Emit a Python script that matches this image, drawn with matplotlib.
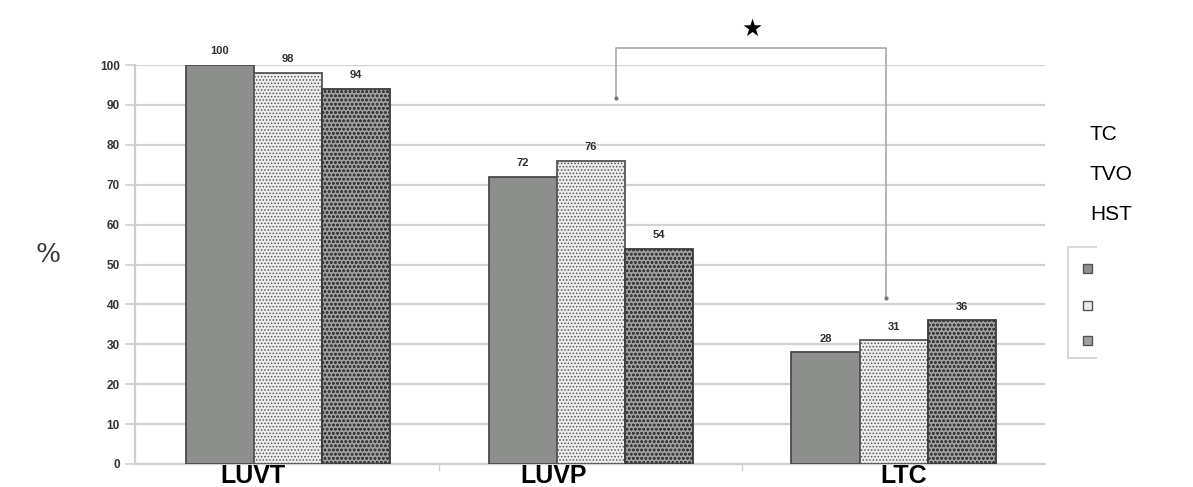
import numpy as np
import matplotlib.pyplot as plt
from matplotlib.patches import Rectangle

categories = ["LUVT", "LUVP", "LTC"]
series_names = ["TC", "TVO", "HST"]
tc = [100, 72, 28]
tvo = [98, 76, 31]
hst = [94, 54, 36]

W, H = 1193, 487
fig = plt.figure(figsize=(W / 100, H / 100), dpi=100)
plt.rcParams["hatch.color"] = "#6e6e6e"
plt.rcParams["hatch.linewidth"] = 0.7


def px(x, y):
    # pixel position -> figure fraction
    return x / W, 1 - y / H


ax = fig.add_axes([135 / W, (H - 464) / H, 910 / W, 399 / H])
ax.set_xlim(-0.505, 2.5)
ax.set_ylim(0, 100)

x = np.arange(len(categories))
bw = 0.225
styles = [
    dict(facecolor="#8c8f8b", edgecolor="#4a4a4a", hatch=None),
    dict(facecolor="#ececec", edgecolor="#555555", hatch="....."),
    dict(facecolor="#a0a0a0", edgecolor="#3c3c3c", hatch="oooo"),
]
for i, (vals, st) in enumerate(zip([tc, tvo, hst], styles)):
    pos = x + (i - 1) * bw
    bars = ax.bar(pos, vals, bw, facecolor=st["facecolor"], edgecolor=st["edgecolor"],
                  linewidth=1.3, zorder=3)
    if st["hatch"]:
        for b in bars:
            b.set_hatch(st["hatch"])
    for p, v in zip(pos, vals):
        ax.text(p, v + 2.2, str(v), ha="center", va="bottom", fontsize=8,
                fontweight="bold", color="#2e2e2e", family="Liberation Sans")

ax.set_yticks(range(0, 101, 10))
ax.yaxis.grid(True, color="#d2d2d2", linewidth=1.6, zorder=0)
ax.tick_params(axis="y", length=7, width=1.2, color="#d2d2d2", pad=4,
               labelsize=8.5, labelcolor="#333333")
for t in ax.get_yticklabels():
    t.set_fontweight("bold")
    t.set_family("Liberation Sans")
ax.set_xticks([0.5, 1.5])
ax.set_xticklabels([])
ax.tick_params(axis="x", length=5, width=1, color="#d2d2d2")
for s in ["top", "right"]:
    ax.spines[s].set_visible(False)
ax.spines["left"].set_color("#cfcfcf")
ax.spines["left"].set_linewidth(1.6)
ax.spines["bottom"].set_color("#d2d2d2")
ax.spines["bottom"].set_linewidth(1.6)

# category labels overlapping the base
label_x = [-0.115, 0.878, 2.035]
for lx, name in zip(label_x, categories):
    ax.text(lx, -3.0, name, ha="center", va="center", fontsize=18, fontweight="bold",
            family="Liberation Sans", color="black", clip_on=False, zorder=5)

# y label
fig.text(*px(48, 255), "%", fontsize=19, family="DejaVu Serif", ha="center",
         va="center", color="#333333")

# significance bracket
bx = [px(616, 98), px(616, 48), px(886, 48), px(886, 298)]
fig.add_artist(plt.Line2D([p[0] for p in bx], [p[1] for p in bx], color="#a9a9a9",
                          linewidth=1.2))
fig.text(*px(752, 29), "★", fontsize=17, ha="center", va="center", color="black",
         family="DejaVu Sans")
for q in (px(616, 98), px(886, 298)):
    fig.add_artist(plt.Line2D([q[0]], [q[1]], marker="o", markersize=2, color="#777777"))

# cut-off legend box
bl = px(1068, 358)
fig.add_artist(Rectangle(bl, 40 / W, 111 / H, facecolor="white", edgecolor="#d8d8d8",
                         linewidth=1.5, transform=fig.transFigure))
for yy, st in zip([268, 305, 340], styles):
    c = px(1083, yy + 5)
    fig.add_artist(Rectangle(c, 9 / W, 9 / H, facecolor=st["facecolor"],
                             edgecolor="#555555", linewidth=1, transform=fig.transFigure))
fig.add_artist(Rectangle(px(1097, 487), 96 / W, 1, facecolor="white", edgecolor="none",
                         transform=fig.transFigure))

for yy, name in zip([135, 175, 215], series_names):
    fig.text(*px(1090, yy), name, fontsize=15, family="Liberation Sans", ha="left",
             va="center", color="black")

fig.savefig("out.png", dpi=100)
